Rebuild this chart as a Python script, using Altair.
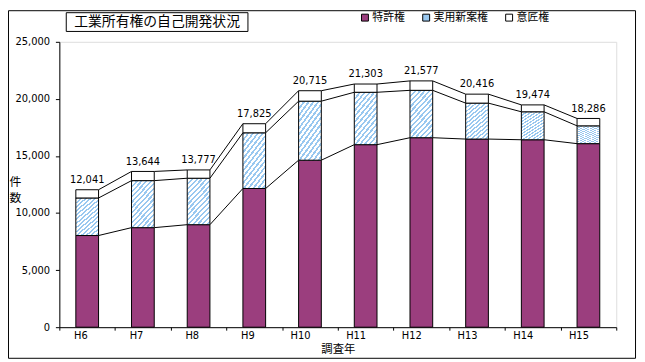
import altair as alt
import pandas as pd

# ---- data ----
years = ["H6", "H7", "H8", "H9", "H10", "H11", "H12", "H13", "H14", "H15"]
patent = [8030, 8720, 8980, 12150, 14630, 15990, 16600, 16480, 16420, 16080]
utility = [3290, 4120, 4070, 4880, 5170, 4590, 4150, 3150, 2450, 1560]
design = [721, 804, 727, 795, 915, 723, 827, 786, 604, 646]
series = ["特許権", "実用新案権", "意匠権"]

# ---- styles ----
PURPLE = "#9B3E7E"
BLUE = "#99C8F0"
FONT = "Noto Sans CJK JP"
NUMFONT = "DejaVu Sans"

rows = []
for i, yr in enumerate(years):
    p = patent[i]
    u = p + utility[i]
    t = u + design[i]
    rows.append({"year": yr, "p": p, "u": u, "t": t})
df = pd.DataFrame(rows)

seg = []
for i in range(len(years) - 1):
    a, b = rows[i], rows[i + 1]
    seg.append({"year": a["year"], "nyear": b["year"],
                "p": a["p"], "np": b["p"], "u": a["u"], "nu": b["u"],
                "t": a["t"], "nt": b["t"]})
segdf = pd.DataFrame(seg)

# hatch-like striped gradient
stops = []
n = 22
for k in range(n):
    s = k / n
    h = 0.45 / n
    stops += [alt.GradientStop(offset=s, color=BLUE),
              alt.GradientStop(offset=s + h, color=BLUE),
              alt.GradientStop(offset=s + h, color="white"),
              alt.GradientStop(offset=(k + 1) / n, color="white")]
hatch = alt.LinearGradient(gradient="linear", stops=stops, x1=0, y1=0, x2=1, y2=1.9)

xenc = alt.X("year:N", sort=years, title="調査年",
             axis=alt.Axis(labelAngle=0, tickBand="extent", tickSize=3,
                           labelPadding=5, labelFont=NUMFONT, labelFontSize=10,
                           titleFont=FONT, titleFontSize=11.5, titlePadding=4,
                           titleFontWeight="normal", domainColor="black",
                           tickColor="black", labelColor="black", titleColor="black"))
yscale = alt.Scale(domain=[0, 25000], nice=False)
yaxis = alt.Axis(values=[0, 5000, 10000, 15000, 20000, 25000], format=",.0f",
                 grid=False, tickSize=4, labelPadding=6, labelFont=NUMFONT,
                 labelFontSize=10, title=["件", "数"], titleAngle=0,
                 titleX=-45, titleY=142, titleAlign="center",
                 titleBaseline="middle", titleFont=FONT, titleFontSize=12,
                 titleFontWeight="normal", titleLineHeight=16,
                 domainColor="black", tickColor="black", labelColor="black",
                 titleColor="black")

base = alt.Chart(df)

bar_p = base.mark_bar(width=23, fill=PURPLE, stroke="black", strokeWidth=1).encode(
    x=xenc, y=alt.Y("p:Q", scale=yscale, axis=yaxis))
bar_u = base.mark_bar(width=23, fill=hatch, stroke="black", strokeWidth=1).encode(
    x=alt.X("year:N", sort=years), y=alt.Y("p:Q"), y2="u:Q")
bar_d = base.mark_bar(width=23, fill="white", stroke="black", strokeWidth=1).encode(
    x=alt.X("year:N", sort=years), y=alt.Y("u:Q"), y2="t:Q")

lines = []
for a, b in [("p", "np"), ("u", "nu"), ("t", "nt")]:
    lines.append(
        alt.Chart(segdf).mark_rule(color="black", strokeWidth=1,
                                   xOffset=11.5, x2Offset=-11.5).encode(
            x=alt.X("year:N", sort=years, bandPosition=0.5),
            x2=alt.X2("nyear", bandPosition=0.5),
            y=alt.Y(f"{a}:Q"), y2=f"{b}:Q"))

labels = base.mark_text(baseline="bottom", dy=-5, font=NUMFONT, fontSize=10,
                        color="black").encode(
    x=alt.X("year:N", sort=years), y=alt.Y("t:Q"),
    text=alt.Text("t:Q", format=",.0f"))

legdf = pd.DataFrame({"s": series})
legend = alt.Chart(legdf).mark_square(opacity=0).encode(
    x=alt.value(0), y=alt.value(0),
    color=alt.Color("s:N", sort=series,
                    scale=alt.Scale(domain=series, range=[PURPLE, BLUE, "white"]),
                    legend=alt.Legend(orient="none", legendX=304, legendY=-30,
                                      direction="horizontal", title=None,
                                      symbolType="square", symbolSize=49,
                                      symbolStrokeColor="black",
                                      symbolStrokeWidth=1, symbolOpacity=1,
                                      labelFont=FONT, labelFontSize=11,
                                      labelColor="black", columnPadding=16,
                                      labelOffset=2)))

one = pd.DataFrame({"a": [0]})
title_box = alt.Chart(one).mark_rect(fill="white", stroke="black", strokeWidth=1).encode(
    x=alt.value(7), x2=alt.value(191), y=alt.value(-29.5), y2=alt.value(-10.5))
title_txt = alt.Chart(one).mark_text(font=FONT, fontSize=14, color="black",
                                     baseline="middle", align="center").encode(
    x=alt.value(99), y=alt.value(-20), text=alt.value("工業所有権の自己開発状況"))
outer = alt.Chart(one).mark_rect(fill=None, stroke="black", strokeWidth=1).encode(
    x=alt.value(-51.5), x2=alt.value(583.5), y=alt.value(-31.5), y2=alt.value(320.5))

chart = alt.layer(outer, *lines, bar_p, bar_u, bar_d, labels, legend,
                  title_box, title_txt).properties(
    width=564, height=289,
    padding={"left": 52, "top": 32, "right": 21, "bottom": 33},
    autosize=alt.AutoSizeParams(type="none"),
).configure_view(stroke="black", strokeWidth=1).configure(background="white")

chart.save("out.html", embed_options={"renderer": "svg", "actions": False})
